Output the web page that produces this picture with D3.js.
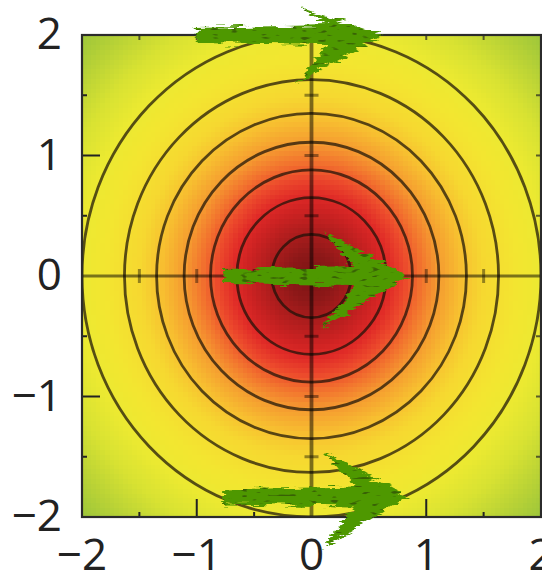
<!DOCTYPE html>
<html>
<head>
<meta charset="utf-8">
<script src="https://cdn.jsdelivr.net/npm/d3@7/dist/d3.min.js"></script>
<style>
  html, body { margin: 0; padding: 0; background: #fff; }
  svg { display: block; }
  .tick-label { font-family: "Open Sans", "DejaVu Sans", sans-serif; font-size: 44px; fill: #222; }
</style>
</head>
<body>
<svg id="chart" width="542" height="574"></svg>
<script>
// Axis range and tick labels
const axisDomain = [-2, 2];
const majorTicks = [-2, -1, 0, 1, 2];
const majorLabels = ["\u22122", "\u22121", "0", "1", "2"];
const halfTicks = [-1.5, -1, -0.5, 0.5, 1, 1.5];

// Radial colour map of the field: distance from origin -> colour
const colorRadius = [0, 0.2, 0.35, 0.55, 0.68, 0.82, 0.96, 1.1, 1.3, 1.5, 1.8, 2.05, 2.3, 2.6, 2.85];
const colorStops = ["#7c1414", "#8e1818", "#a81c1c", "#cc2222", "#e02a27", "#ec4a2c", "#f2742e",
                    "#f59a30", "#f7be30", "#f6d830", "#f3e630", "#ebe931", "#d8e232", "#b6d136", "#9ac53b"];

// Contour levels, as radii of the level circles
const contourRadii = [0.345, 0.65, 0.88, 1.11, 1.35, 1.63, 2.0];

// Vector arrows: tail x, tip x, y
const arrowTailX = [-1.0, -0.77, -0.77];
const arrowTipX  = [0.62, 0.84, 0.84];
const arrowY     = [2.0, 0.0, -1.83];

// Arrow head drawing sizes in pixels (upper and lower barb reach)
const headStyle = [{ up: 28, down: 48 }, { up: 44, down: 52 }, { up: 45, down: 52 }];

const svg = d3.select("#chart");
const x = d3.scaleLinear().domain(axisDomain).range([82, 541]);
const y = d3.scaleLinear().domain(axisDomain).range([517, 35]);
const color = d3.scaleLinear().domain(colorRadius).range(colorStops)
  .interpolate(d3.interpolateRgb).clamp(true);

const defs = svg.append("defs");
defs.append("clipPath").attr("id", "plotClip").append("rect")
  .attr("x", x(-2)).attr("y", y(2)).attr("width", x(2) - x(-2)).attr("height", y(-2) - y(2));

// Rough, scribbled look for the arrows
const rough = defs.append("filter").attr("id", "rough")
  .attr("color-interpolation-filters", "sRGB")
  .attr("x", "-20%").attr("y", "-40%").attr("width", "140%").attr("height", "180%");
rough.append("feTurbulence").attr("type", "fractalNoise").attr("baseFrequency", "0.045 0.3")
  .attr("numOctaves", 3).attr("seed", 4).attr("result", "noise");
rough.append("feDisplacementMap").attr("in", "SourceGraphic").attr("in2", "noise")
  .attr("scale", 12).attr("xChannelSelector", "R").attr("yChannelSelector", "G").attr("result", "disp");
rough.append("feTurbulence").attr("type", "fractalNoise").attr("baseFrequency", "0.1 0.35")
  .attr("numOctaves", 1).attr("seed", 9).attr("result", "spots");
rough.append("feColorMatrix").attr("in", "spots").attr("type", "matrix")
  .attr("values", "0 0 0 0 0.22  0 0 0 0 0.38  0 0 0 0 0.02  -10 0 0 0 3.7").attr("result", "spotMask");
rough.append("feComposite").attr("in", "spotMask").attr("in2", "disp").attr("operator", "in").attr("result", "spotsIn");
const merge = rough.append("feMerge");
merge.append("feMergeNode").attr("in", "disp");
merge.append("feMergeNode").attr("in", "spotsIn");

// Heat map cells
const N = 100;
const step = (axisDomain[1] - axisDomain[0]) / N;
const cells = [];
for (let i = 0; i < N; i++) {
  for (let j = 0; j < N; j++) {
    cells.push({ x0: axisDomain[0] + i * step, y0: axisDomain[0] + j * step });
  }
}
const plot = svg.append("g").attr("clip-path", "url(#plotClip)");
plot.append("g").attr("shape-rendering", "crispEdges")
  .selectAll("rect").data(cells).join("rect")
  .attr("x", d => x(d.x0))
  .attr("y", d => y(d.y0 + step))
  .attr("width", x(step) - x(0) + 0.6)
  .attr("height", y(0) - y(step) + 0.6)
  .attr("fill", d => color(Math.hypot(d.x0 + step / 2, d.y0 + step / 2)));

// Contour circles
plot.append("g").selectAll("ellipse").data(contourRadii).join("ellipse")
  .attr("cx", x(0)).attr("cy", y(0))
  .attr("rx", r => x(r) - x(0)).attr("ry", r => y(0) - y(r))
  .attr("fill", "none").attr("stroke", "#1a1208").attr("stroke-opacity", 0.72).attr("stroke-width", 2.8);

// Zero axes with their own ticks
const zero = plot.append("g").attr("stroke", "#000");
zero.append("line").attr("x1", x(-2)).attr("x2", x(2)).attr("y1", y(0)).attr("y2", y(0))
  .attr("stroke-opacity", 0.5).attr("stroke-width", 3.2);
zero.append("line").attr("x1", x(0)).attr("x2", x(0)).attr("y1", y(-2)).attr("y2", y(2))
  .attr("stroke-opacity", 0.5).attr("stroke-width", 3.8);
zero.selectAll(".zx").data(halfTicks).join("line").attr("class", "zx")
  .attr("x1", d => x(d)).attr("x2", d => x(d)).attr("y1", y(0) - 7).attr("y2", y(0) + 7)
  .attr("stroke-opacity", 0.4).attr("stroke-width", 3);
zero.selectAll(".zy").data(halfTicks).join("line").attr("class", "zy")
  .attr("y1", d => y(d)).attr("y2", d => y(d)).attr("x1", x(0) - 7).attr("x2", x(0) + 7)
  .attr("stroke-opacity", 0.4).attr("stroke-width", 3);

// Frame ticks: long at integers on left/bottom, short at halves everywhere
const frame = svg.append("g").attr("stroke", "#222");
const isMajor = d => Number.isInteger(d);
frame.selectAll(".tb").data(halfTicks).join("line").attr("class", "tb")
  .attr("x1", d => x(d)).attr("x2", d => x(d)).attr("y1", y(-2))
  .attr("y2", d => y(-2) - (isMajor(d) ? 18 : 5)).attr("stroke-width", 2);
frame.selectAll(".tl").data(halfTicks).join("line").attr("class", "tl")
  .attr("y1", d => y(d)).attr("y2", d => y(d)).attr("x1", x(-2))
  .attr("x2", d => x(-2) + (isMajor(d) ? 18 : 5)).attr("stroke-width", 2);
frame.selectAll(".tt").data(halfTicks).join("line").attr("class", "tt")
  .attr("x1", d => x(d)).attr("x2", d => x(d)).attr("y1", y(2)).attr("y2", y(2) + 5)
  .attr("stroke-width", 2).attr("stroke-opacity", 0.7);
frame.selectAll(".tr").data(halfTicks).join("line").attr("class", "tr")
  .attr("y1", d => y(d)).attr("y2", d => y(d)).attr("x1", x(2)).attr("x2", x(2) - 5)
  .attr("stroke-width", 2).attr("stroke-opacity", 0.7);
frame.append("rect").attr("x", x(-2)).attr("y", y(2))
  .attr("width", x(2) - x(-2)).attr("height", y(-2) - y(2))
  .attr("fill", "none").attr("stroke", "#2b2b2b").attr("stroke-width", 2.2);

// Arrows
const arrows = arrowY.map((v, i) => ({ tail: arrowTailX[i], tip: arrowTipX[i], y: v, head: headStyle[i] }));
const arrowPath = d => {
  const x0 = x(d.tail), x1 = x(d.tip), yy = y(d.y);
  const pts = [[x0, yy - 7], [x1 - 54, yy - 10], [x1 - 84, yy - d.head.up], [x1, yy],
               [x1 - 86, yy + d.head.down], [x1 - 54, yy + 10], [x0, yy + 8]];
  return d3.line()(pts) + "Z";
};
svg.append("g").attr("filter", "url(#rough)")
  .selectAll("path").data(arrows).join("path")
  .attr("d", arrowPath)
  .attr("fill", "#4e9800");

// Tick labels
svg.append("g").selectAll("text").data(majorTicks).join("text")
  .attr("class", "tick-label")
  .attr("x", 62).attr("y", d => y(d) - 3)
  .attr("text-anchor", "end").attr("dominant-baseline", "central")
  .text((d, i) => majorLabels[i]);
svg.append("g").selectAll("text").data(majorTicks).join("text")
  .attr("class", "tick-label")
  .attr("x", d => x(d)).attr("y", 570)
  .attr("text-anchor", "middle")
  .text((d, i) => majorLabels[i]);
</script>
</body>
</html>
